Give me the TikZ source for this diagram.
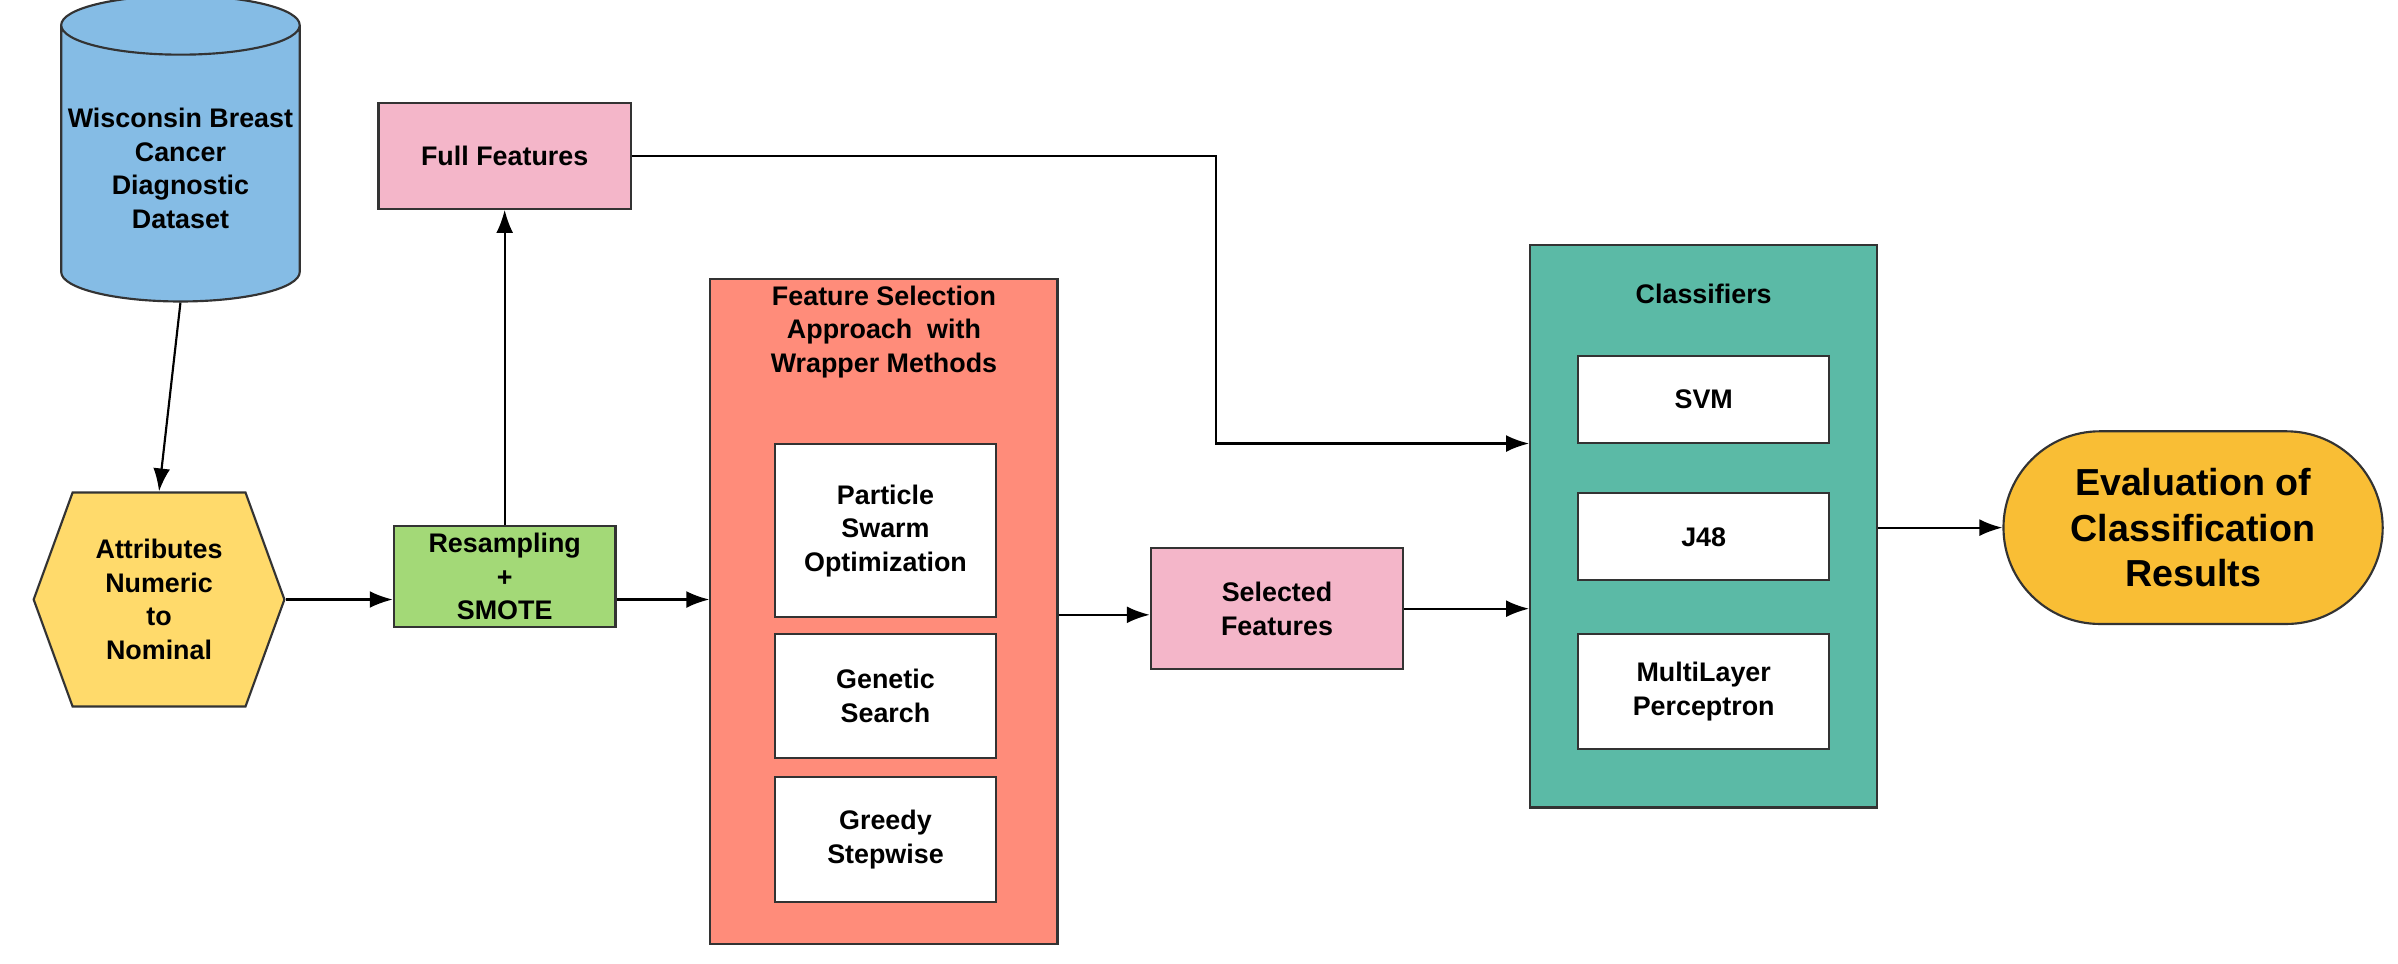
\documentclass[tikz,border=0pt]{standalone}
\usepackage{fontspec}
\setmainfont{Liberation Sans}
\usetikzlibrary{shapes.geometric, shapes.symbols, positioning, arrows.meta}
\definecolor{dbblue}{HTML}{85BCE5}
\definecolor{hexyellow}{HTML}{FFDA6B}
\definecolor{resgreen}{HTML}{A3D977}
\definecolor{featpink}{HTML}{F4B6C9}
\definecolor{fsred}{HTML}{FF8C7A}
\definecolor{clsteal}{HTML}{5BBAA6}
\definecolor{evalorange}{HTML}{F9BE35}
\tikzset{
  >={Latex[length=3mm,width=2.2mm]}, % arrow heads
  every node/.style={font=\fontsize{10}{12.5}\selectfont\bfseries, align=center, inner sep=2pt},
  box/.style={draw=black!80, thick, rectangle},
  inbox/.style={box, fill=white, minimum width=2.88cm},
  link/.style={->, thick},
}
\begin{document}
\begin{tikzpicture}[x=0.02cm, y=-0.02cm]
  \useasboundingbox (0,0) rectangle (1568,630);
  % data source
  \node[cylinder, shape border rotate=90, draw=black!80, thick, fill=dbblue, aspect=0.25,
        minimum width=3.12cm, minimum height=4cm] (dataset) at (118,110) {Wisconsin Breast\\Cancer\\Diagnostic\\Dataset};
  \node[signal, signal to=west and east, signal pointer angle=140, draw=black!80, thick, fill=hexyellow,
        minimum width=3.28cm, minimum height=2.8cm] (attr) at (104,392) {Attributes\\Numeric\\to\\Nominal};
  \node[box, fill=resgreen, minimum width=2.9cm, minimum height=1.32cm] (resample) at (330,377) {Resampling\\+\\SMOTE};
  \node[box, fill=featpink, minimum width=3.3cm, minimum height=1.38cm] (full) at (330,102) {Full Features};
  % feature selection
  \node[box, fill=fsred, minimum width=4.54cm, minimum height=8.7cm] (fs) at (578,400) {};
  \node[anchor=north] (fstitle) at (578,183) {Feature Selection\\Approach~ with\\Wrapper Methods};
  \node[inbox, minimum height=2.26cm] (pso) at (579,347) {Particle\\Swarm\\Optimization};
  \node[inbox, minimum height=1.62cm] (ga) at (579,455) {Genetic\\Search};
  \node[inbox, minimum height=1.64cm] (greedy) at (579,549) {Greedy\\Stepwise};
  \node[box, fill=featpink, minimum width=3.3cm, minimum height=1.58cm] (selected) at (835,398) {Selected\\Features};
  % classifiers
  \node[box, fill=clsteal, minimum width=4.54cm, minimum height=7.36cm] (cls) at (1114,344) {};
  \node (clstitle) at (1114,192) {Classifiers};
  \node[inbox, minimum width=3.28cm, minimum height=1.14cm] (svm) at (1114,261) {SVM};
  \node[inbox, minimum width=3.28cm, minimum height=1.14cm] (j48) at (1114,351) {J48};
  \node[inbox, minimum width=3.28cm, minimum height=1.5cm] (mlp) at (1114,452) {MultiLayer\\Perceptron};
  \node[draw=black!80, thick, fill=evalorange, rounded corners=1.26cm, minimum width=4.96cm, minimum height=2.52cm,
        font=\fontsize{14}{17}\selectfont\bfseries] (eval) at (1434,345) {Evaluation of\\Classification\\Results};
  % connectors
  \draw[link] (dataset.south) -- (attr.north);
  \draw[link] (attr.east) -- (resample.west |- attr.east);
  \draw[link] (resample.north) -- (full.south);
  \draw[link] (resample.east |- 0,392) -- (fs.west |- 0,392);
  \draw[link] (fs.east |- 0,402) -- (selected.west |- 0,402);
  \draw[link] (selected.east) -- (cls.west |- selected.east);
  \draw[link] (full.east) -| (795,290) -- (cls.west |- 0,290);
  \draw[link] (cls.east |- eval.west) -- (eval.west);
\end{tikzpicture}
\end{document}
